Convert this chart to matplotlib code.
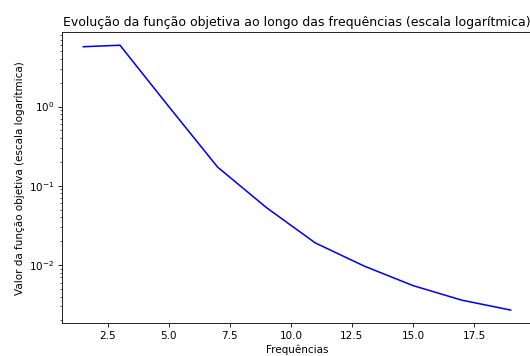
import matplotlib
matplotlib.use("Agg")
import matplotlib.pyplot as plt

frequencias = [1.5, 3, 5, 7, 9, 11, 13, 15, 17, 19]
valores = [5.7, 5.95, 1.0, 0.172, 0.053, 0.019, 0.0097, 0.0055, 0.0036, 0.0027]

DPI = 75
fig = plt.figure(figsize=(530 / DPI, 356 / DPI), dpi=DPI)
ax = fig.add_axes([62 / 530, (356 - 323.3) / 356, 470 / 530, 291.3 / 356])

ax.plot(frequencias, valores, color="blue", lw=1.5)
ax.set_yscale("log")
ax.set_title("Evolução da função objetiva ao longo das frequências (escala logarítmica)")
ax.set_xlabel("Frequências")
ax.set_ylabel("Valor da função objetiva (escala logarítmica)")

fig.savefig("out.png", dpi=DPI)
